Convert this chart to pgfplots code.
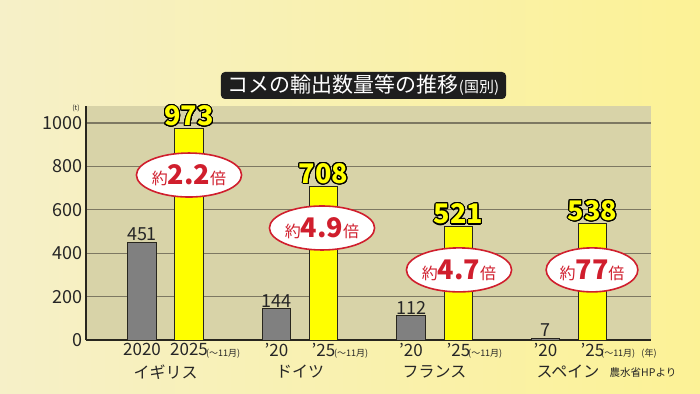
\documentclass[border=0pt]{standalone}
\usepackage{fontspec}
\setmainfont{Noto Sans CJK JP}
\usepackage{pgfplots}
\pgfplotsset{compat=1.18}
\usetikzlibrary{shapes.geometric}
\usepackage{contour}
\contourlength{1.1pt}
\contournumber{24}
\definecolor{bgA}{RGB}{246,240,200}
\definecolor{bgB}{RGB}{252,242,150}
\definecolor{panel}{RGB}{216,211,168}
\definecolor{gridc}{RGB}{125,120,98}
\definecolor{axisc}{RGB}{40,38,30}
\definecolor{titlebg}{RGB}{30,30,30}
\definecolor{barg}{RGB}{128,128,128}
\definecolor{bary}{RGB}{255,255,0}
\definecolor{cred}{RGB}{208,30,45}
\newcommand{\fs}[1]{\fontsize{#1}{#1}\selectfont}
\newcommand{\co}[1]{{\fs{16}約}{\fs{27}\bfseries #1}{\fs{16}倍}}
\begin{document}
\begin{tikzpicture}[x=1pt,y=1pt]
\shade[left color=bgA, right color=bgB] (0,0) rectangle (700,393);
\begin{axis}[at={(86pt,53pt)}, anchor=south west, scale only axis,
  width=565pt, height=234pt,
  xmin=86, xmax=651, ymin=0, ymax=1078,
  axis x line*=bottom, axis y line*=left,
  axis line style={draw=axisc, line width=1.6pt, -},
  axis background/.style={fill=panel},
  ytick={0,200,...,1000},
  /pgf/number format/1000 sep={},
  /pgf/number format/assume math mode=true,
  yticklabel style={font=\fs{18}, text=black!85},
  ymajorgrids, grid style={gridc, line width=1.2pt},
  major tick length=0pt,
  xtick={142,189,276.5,323.5,411,458.5,545.5,592.5},
  xticklabels={2020,2025,’20,’25,’20,’25,’20,’25},
  xticklabel style={font=\fs{17}, text=black!85},
  clip=false]
\addplot[ybar, bar shift=0pt, bar width=28.5, fill=barg, draw=axisc, line width=1pt,
  nodes near coords, every node near coord/.append style={font=\fs{18}, text=black!85, inner sep=1pt}]
  coordinates {(142,451) (276.5,144) (411,112) (545.5,7)};
\addplot[ybar, bar shift=0pt, bar width=28.5, fill=bary, draw=axisc, line width=1pt,
  nodes near coords={\contour{black}{\textcolor{bary}{\pgfmathprintnumber{\pgfplotspointmeta}}}},
  every node near coord/.append style={font=\fs{27}\bfseries, inner sep=1pt}]
  coordinates {(189,973) (323.5,708) (458.5,521) (592.5,538)};
\node[ellipse, fill=white, draw=cred, line width=1.6pt, minimum width=92pt, minimum height=44pt, inner sep=0pt, text=cred] at (axis cs:189,760) {\co{2.2}};
\node[ellipse, fill=white, draw=cred, line width=1.6pt, minimum width=94pt, minimum height=44pt, inner sep=0pt, text=cred] at (axis cs:322,516) {\co{4.9}};
\node[ellipse, fill=white, draw=cred, line width=1.6pt, minimum width=92pt, minimum height=44pt, inner sep=0pt, text=cred] at (axis cs:459,323) {\co{4.7}};
\node[ellipse, fill=white, draw=cred, line width=1.6pt, minimum width=86pt, minimum height=44pt, inner sep=0pt, text=cred] at (axis cs:592,323) {\co{77}};
\node[anchor=west, font=\fs{9}, text=black!85, inner sep=0pt] at (axis cs:206,-62) {(〜11月)};
\node[anchor=west, font=\fs{9}, text=black!85, inner sep=0pt] at (axis cs:334,-62) {(〜11月)};
\node[anchor=west, font=\fs{9}, text=black!85, inner sep=0pt] at (axis cs:468,-62) {(〜11月)};
\node[anchor=west, font=\fs{9}, text=black!85, inner sep=0pt] at (axis cs:601,-62) {(〜11月)};
\node[font=\fs{16}, text=black!85] at (axis cs:165.5,-147) {イギリス};
\node[font=\fs{16}, text=black!85] at (axis cs:300,-147) {ドイツ};
\node[font=\fs{16}, text=black!85] at (axis cs:434.5,-147) {フランス};
\node[font=\fs{16}, text=black!85] at (axis cs:568,-147) {スペイン};
\node[font=\fs{9}, text=black!85] at (axis cs:649,-62) {(年)};
\node[font=\fs{10.5}, text=black!85] at (axis cs:643,-152) {農水省HPより};
\node[font=\fs{7}, text=black!85] at (axis cs:76,1069) {(t)};
\end{axis}
\node[fill=titlebg, rounded corners=4pt, text=white, minimum height=27pt, inner xsep=7pt, inner ysep=2pt] at (363.5pt,307.5pt) {\fs{21}コメの輸出数量等の推移{\fs{15}(国別)}};
\end{tikzpicture}
\end{document}
